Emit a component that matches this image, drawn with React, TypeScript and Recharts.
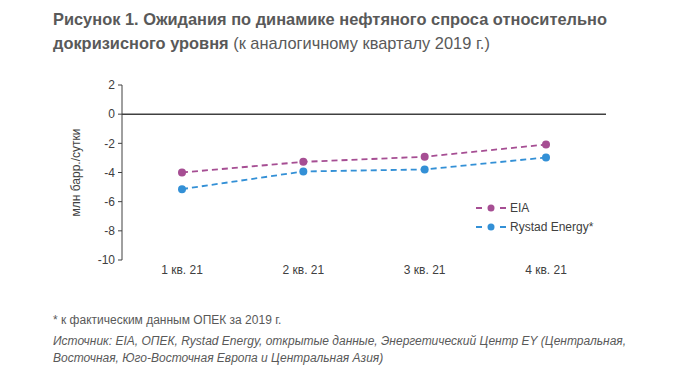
import { LineChart, Line, XAxis, YAxis, ReferenceLine } from 'recharts';

const quarters = ['1 кв. 21', '2 кв. 21', '3 кв. 21', '4 кв. 21'];
const eia = [-4.0, -3.27, -2.92, -2.08];
const rystad = [-5.14, -3.93, -3.79, -2.97];
const yTicks = [2, 0, -2, -4, -6, -8, -10];

const data = quarters.map((q, i) => ({ q, eia: eia[i], rystad: rystad[i] }));

const EIA_COLOR = '#A64E93';
const RYSTAD_COLOR = '#3390D6';
const TEXT = '#595959';
const FONT = '"Liberation Sans", Arial, sans-serif';

const legendItems = [
  { name: 'EIA', color: EIA_COLOR },
  { name: 'Rystad Energy*', color: RYSTAD_COLOR },
];

const ChartLegend = () => (
  <div style={{ position: 'absolute', left: 476, top: 198, fontFamily: FONT, fontSize: 12, color: '#404040' }}>
    {legendItems.map((it) => (
      <div key={it.name} style={{ display: 'flex', alignItems: 'center', height: 19 }}>
        <svg width={30} height={10} style={{ marginRight: 4 }}>
          <line x1={0} y1={5} x2={30} y2={5} stroke={it.color} strokeWidth={1.8} strokeDasharray="6 6" />
          <circle cx={15} cy={5} r={3.5} fill={it.color} />
        </svg>
        <span>{it.name}</span>
      </div>
    ))}
  </div>
);

export default function App() {
  return (
    <div style={{ position: 'fixed', top: 0, left: 0, width: 700, height: 379, background: '#fff', fontFamily: FONT }}>
      <div style={{ position: 'absolute', left: 53, top: 7, fontSize: 16.4, lineHeight: '24px', color: TEXT, width: 640 }}>
        <b>Рисунок 1. Ожидания по динамике нефтяного спроса относительно докризисного уровня</b>{' '}
        <span>(к аналогичному кварталу 2019 г.)</span>
      </div>
      <div style={{ position: 'absolute', left: 0, top: 0 }}>
        <LineChart width={700} height={290} data={data} margin={{ top: 85, right: 94, bottom: 0, left: 42 }}>
          <XAxis
            dataKey="q"
            axisLine={false}
            tickLine={false}
            tickSize={0}
            tickMargin={5}
            height={30}
            padding={{ left: 60, right: 60 }}
            tick={{ fontSize: 12, fill: '#404040', fontFamily: FONT }}
          />
          <YAxis
            domain={[-10, 2]}
            ticks={yTicks}
            interval={0}
            width={80}
            tickSize={4}
            tickMargin={3}
            axisLine={{ stroke: '#404040' }}
            tickLine={{ stroke: '#404040' }}
            tick={{ fontSize: 12, fill: '#404040', fontFamily: FONT }}
            label={{
              value: 'млн барр./сутки',
              angle: -90,
              position: 'insideLeft',
              offset: 34,
              style: { textAnchor: 'middle', fontSize: 12, fill: '#404040', fontFamily: FONT },
            }}
          />
          <ReferenceLine y={0} stroke="#404040" strokeWidth={1.5} />
          <Line
            dataKey="eia"
            stroke={EIA_COLOR}
            strokeWidth={1.8}
            strokeDasharray="6 4"
            dot={{ r: 4, fill: EIA_COLOR, stroke: 'none' }}
            isAnimationActive={false}
          />
          <Line
            dataKey="rystad"
            stroke={RYSTAD_COLOR}
            strokeWidth={1.8}
            strokeDasharray="6 4"
            dot={{ r: 4, fill: RYSTAD_COLOR, stroke: 'none' }}
            isAnimationActive={false}
          />
        </LineChart>
      </div>
      <ChartLegend />
      <div style={{ position: 'absolute', left: 53, top: 313, fontSize: 12, color: TEXT }}>
        * к фактическим данным ОПЕК за 2019 г.
      </div>
      <div
        style={{
          position: 'absolute',
          left: 53,
          top: 333,
          width: 620,
          fontSize: 12,
          lineHeight: '17px',
          fontStyle: 'italic',
          color: TEXT,
        }}
      >
        Источник: EIA, ОПЕК, Rystad Energy, открытые данные, Энергетический Центр EY (Центральная,
        <br />
        Восточная, Юго-Восточная Европа и Центральная Азия)
      </div>
    </div>
  );
}
